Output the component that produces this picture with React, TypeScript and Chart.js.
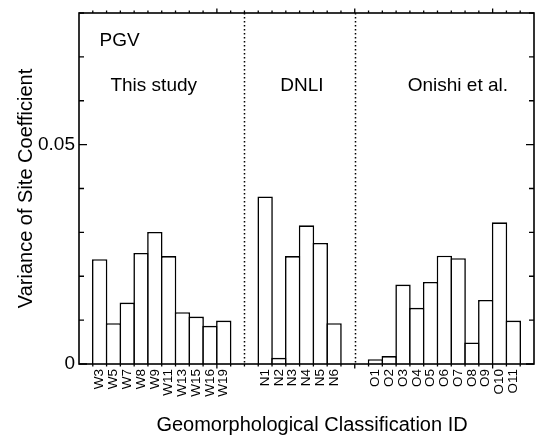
import React, { useEffect, useRef } from 'react';
import { Chart, registerables } from 'chart.js';

Chart.register(...registerables);

// ---- data ----
const thisStudyIds = ['W3', 'W5', 'W7', 'W8', 'W9', 'W11', 'W13', 'W15', 'W16', 'W19'];
const thisStudyVariance = [0.0239, 0.0093, 0.0140, 0.0253, 0.0301, 0.0246, 0.0118, 0.0108, 0.0087, 0.0099];
const dnliIds = ['N1', 'N2', 'N3', 'N4', 'N5', 'N6'];
const dnliVariance = [0.0382, 0.0014, 0.0246, 0.0316, 0.0276, 0.0093];
const onishiIds = ['O1', 'O2', 'O3', 'O4', 'O5', 'O6', 'O7', 'O8', 'O9', 'O10', 'O11'];
const onishiVariance = [0.0011, 0.0018, 0.0181, 0.0128, 0.0187, 0.0247, 0.0241, 0.0049, 0.0146, 0.0323, 0.0099];
const groupNames = ['This study', 'DNLI', 'Onishi et al.'];
const panelLabel = 'PGV';
const yTickValues = [0, 0.05];
const yMinorTickValues = [0, 0.01, 0.02, 0.03, 0.04, 0.05, 0.06, 0.07, 0.08];
const yMax = 0.08;
const xTitle = 'Geomorphological Classification ID';
const yTitle = 'Variance of Site Coefficient';

// build category axis: blank slot, group, 2 blank slots (separator between), group, ...
const groupIds = [thisStudyIds, dnliIds, onishiIds];
const groupVals = [thisStudyVariance, dnliVariance, onishiVariance];
const labels: string[] = [''];
const values: (number | null)[] = [null];
const separators: number[] = [];
groupIds.forEach((ids, g) => {
  ids.forEach((id, i) => {
    labels.push(id);
    values.push(groupVals[g][i]);
  });
  if (g < groupIds.length - 1) {
    labels.push('', '');
    values.push(null, null);
    separators.push(labels.length - 1.5);
  }
});
labels.push('');
values.push(null);

const FONT = "'Liberation Sans', Arial, Helvetica, sans-serif";

const framePlugin = {
  id: 'frame',
  afterDraw(chart: any) {
    const { ctx, chartArea } = chart;
    const { left, right, top, bottom } = chartArea;
    const x = chart.scales.x;
    const y = chart.scales.y;
    const slot = (s: number) => x.getPixelForValue(s - 0.5);
    ctx.save();
    ctx.strokeStyle = '#000';
    // dotted separators
    ctx.lineWidth = 1.5;
    ctx.setLineDash([1.5, 2.5]);
    separators.forEach((s) => {
      const px = Math.round(x.getPixelForValue(s)) + 0.5;
      ctx.beginPath();
      ctx.moveTo(px, top);
      ctx.lineTo(px, bottom);
      ctx.stroke();
    });
    ctx.setLineDash([]);
    // x ticks (outward), top and bottom
    ctx.lineWidth = 1.3;
    for (let k = 1; k < labels.length; k++) {
      const px = slot(k);
      const len = k % 10 === 0 ? 4.5 : 2.5;
      ctx.beginPath();
      ctx.moveTo(px, bottom);
      ctx.lineTo(px, bottom + len);
      ctx.moveTo(px, top);
      ctx.lineTo(px, top - len);
      ctx.stroke();
    }
    // y ticks (inward), left and right
    yMinorTickValues.forEach((v) => {
      const py = y.getPixelForValue(v);
      const len = yTickValues.includes(v) ? 8 : 5;
      ctx.beginPath();
      ctx.moveTo(left, py);
      ctx.lineTo(left + len, py);
      ctx.moveTo(right, py);
      ctx.lineTo(right - len, py);
      ctx.stroke();
    });
    // frame
    ctx.lineWidth = 1.6;
    ctx.strokeRect(left, top, right - left, bottom - top);
    // annotations
    ctx.fillStyle = '#000';
    ctx.textBaseline = 'alphabetic';
    ctx.font = `19px ${FONT}`;
    ctx.textAlign = 'left';
    ctx.fillText(panelLabel, slot(1.49), y.getPixelForValue(0.0724));
    ctx.textAlign = 'center';
    const groupCenters = [5.42, 16.17, 27.48];
    groupNames.forEach((n, i) => {
      ctx.fillText(n, slot(groupCenters[i]), y.getPixelForValue(0.0623));
    });
    // axis titles
    ctx.font = `20px ${FONT}`;
    ctx.textAlign = 'center';
    ctx.fillText(xTitle, 312, 431);
    ctx.save();
    ctx.translate(32, (top + bottom) / 2);
    ctx.rotate(-Math.PI / 2);
    ctx.fillText(yTitle, 0, 0);
    ctx.restore();
    ctx.restore();
  },
};

export default function App() {
  const ref = useRef<HTMLCanvasElement | null>(null);
  useEffect(() => {
    if (!ref.current) return;
    const chart = new Chart(ref.current, {
      type: 'bar',
      data: {
        labels,
        datasets: [
          {
            data: values,
            backgroundColor: '#ffffff',
            borderColor: '#000000',
            borderWidth: 1.6,
            borderSkipped: 'start',
            barPercentage: 1.116,
            categoryPercentage: 1,
          },
        ],
      },
      options: {
        responsive: false,
        animation: false,
        layout: { padding: { left: 0, right: 2, top: 13, bottom: 0 } },
        plugins: { legend: { display: false }, tooltip: { enabled: false }, title: { display: false } },
        scales: {
          x: {
            type: 'category',
            offset: true,
            grid: { display: false, drawTicks: false },
            border: { display: false },
            ticks: {
              autoSkip: false,
              maxRotation: 90,
              minRotation: 90,
              padding: 5,
              color: '#000',
              font: { family: FONT, size: 13.5, lineHeight: 1 },
            },
            afterFit(scale: any) {
              scale.height = 74;
              scale.paddingLeft = 0;
              scale.paddingRight = 0;
            },
          },
          y: {
            min: 0,
            max: yMax,
            grid: { display: false, drawTicks: false },
            border: { display: false },
            ticks: {
              padding: 4,
              color: '#000',
              font: { family: FONT, size: 19, lineHeight: 1 },
              callback: (v: any) => (v === 0 ? '0' : String(v)),
            },
            afterBuildTicks(scale: any) {
              scale.ticks = yTickValues.map((v) => ({ value: v }));
            },
            afterFit(scale: any) {
              scale.width = 79;
              scale.paddingTop = 0;
              scale.paddingBottom = 0;
            },
          },
        },
      },
      plugins: [framePlugin],
    });
    return () => chart.destroy();
  }, []);
  return (
    <div style={{ position: 'fixed', left: 0, top: 0, width: 536, height: 438, background: '#fff' }}>
      <canvas ref={ref} width={536} height={438} style={{ display: 'block' }} />
    </div>
  );
}
